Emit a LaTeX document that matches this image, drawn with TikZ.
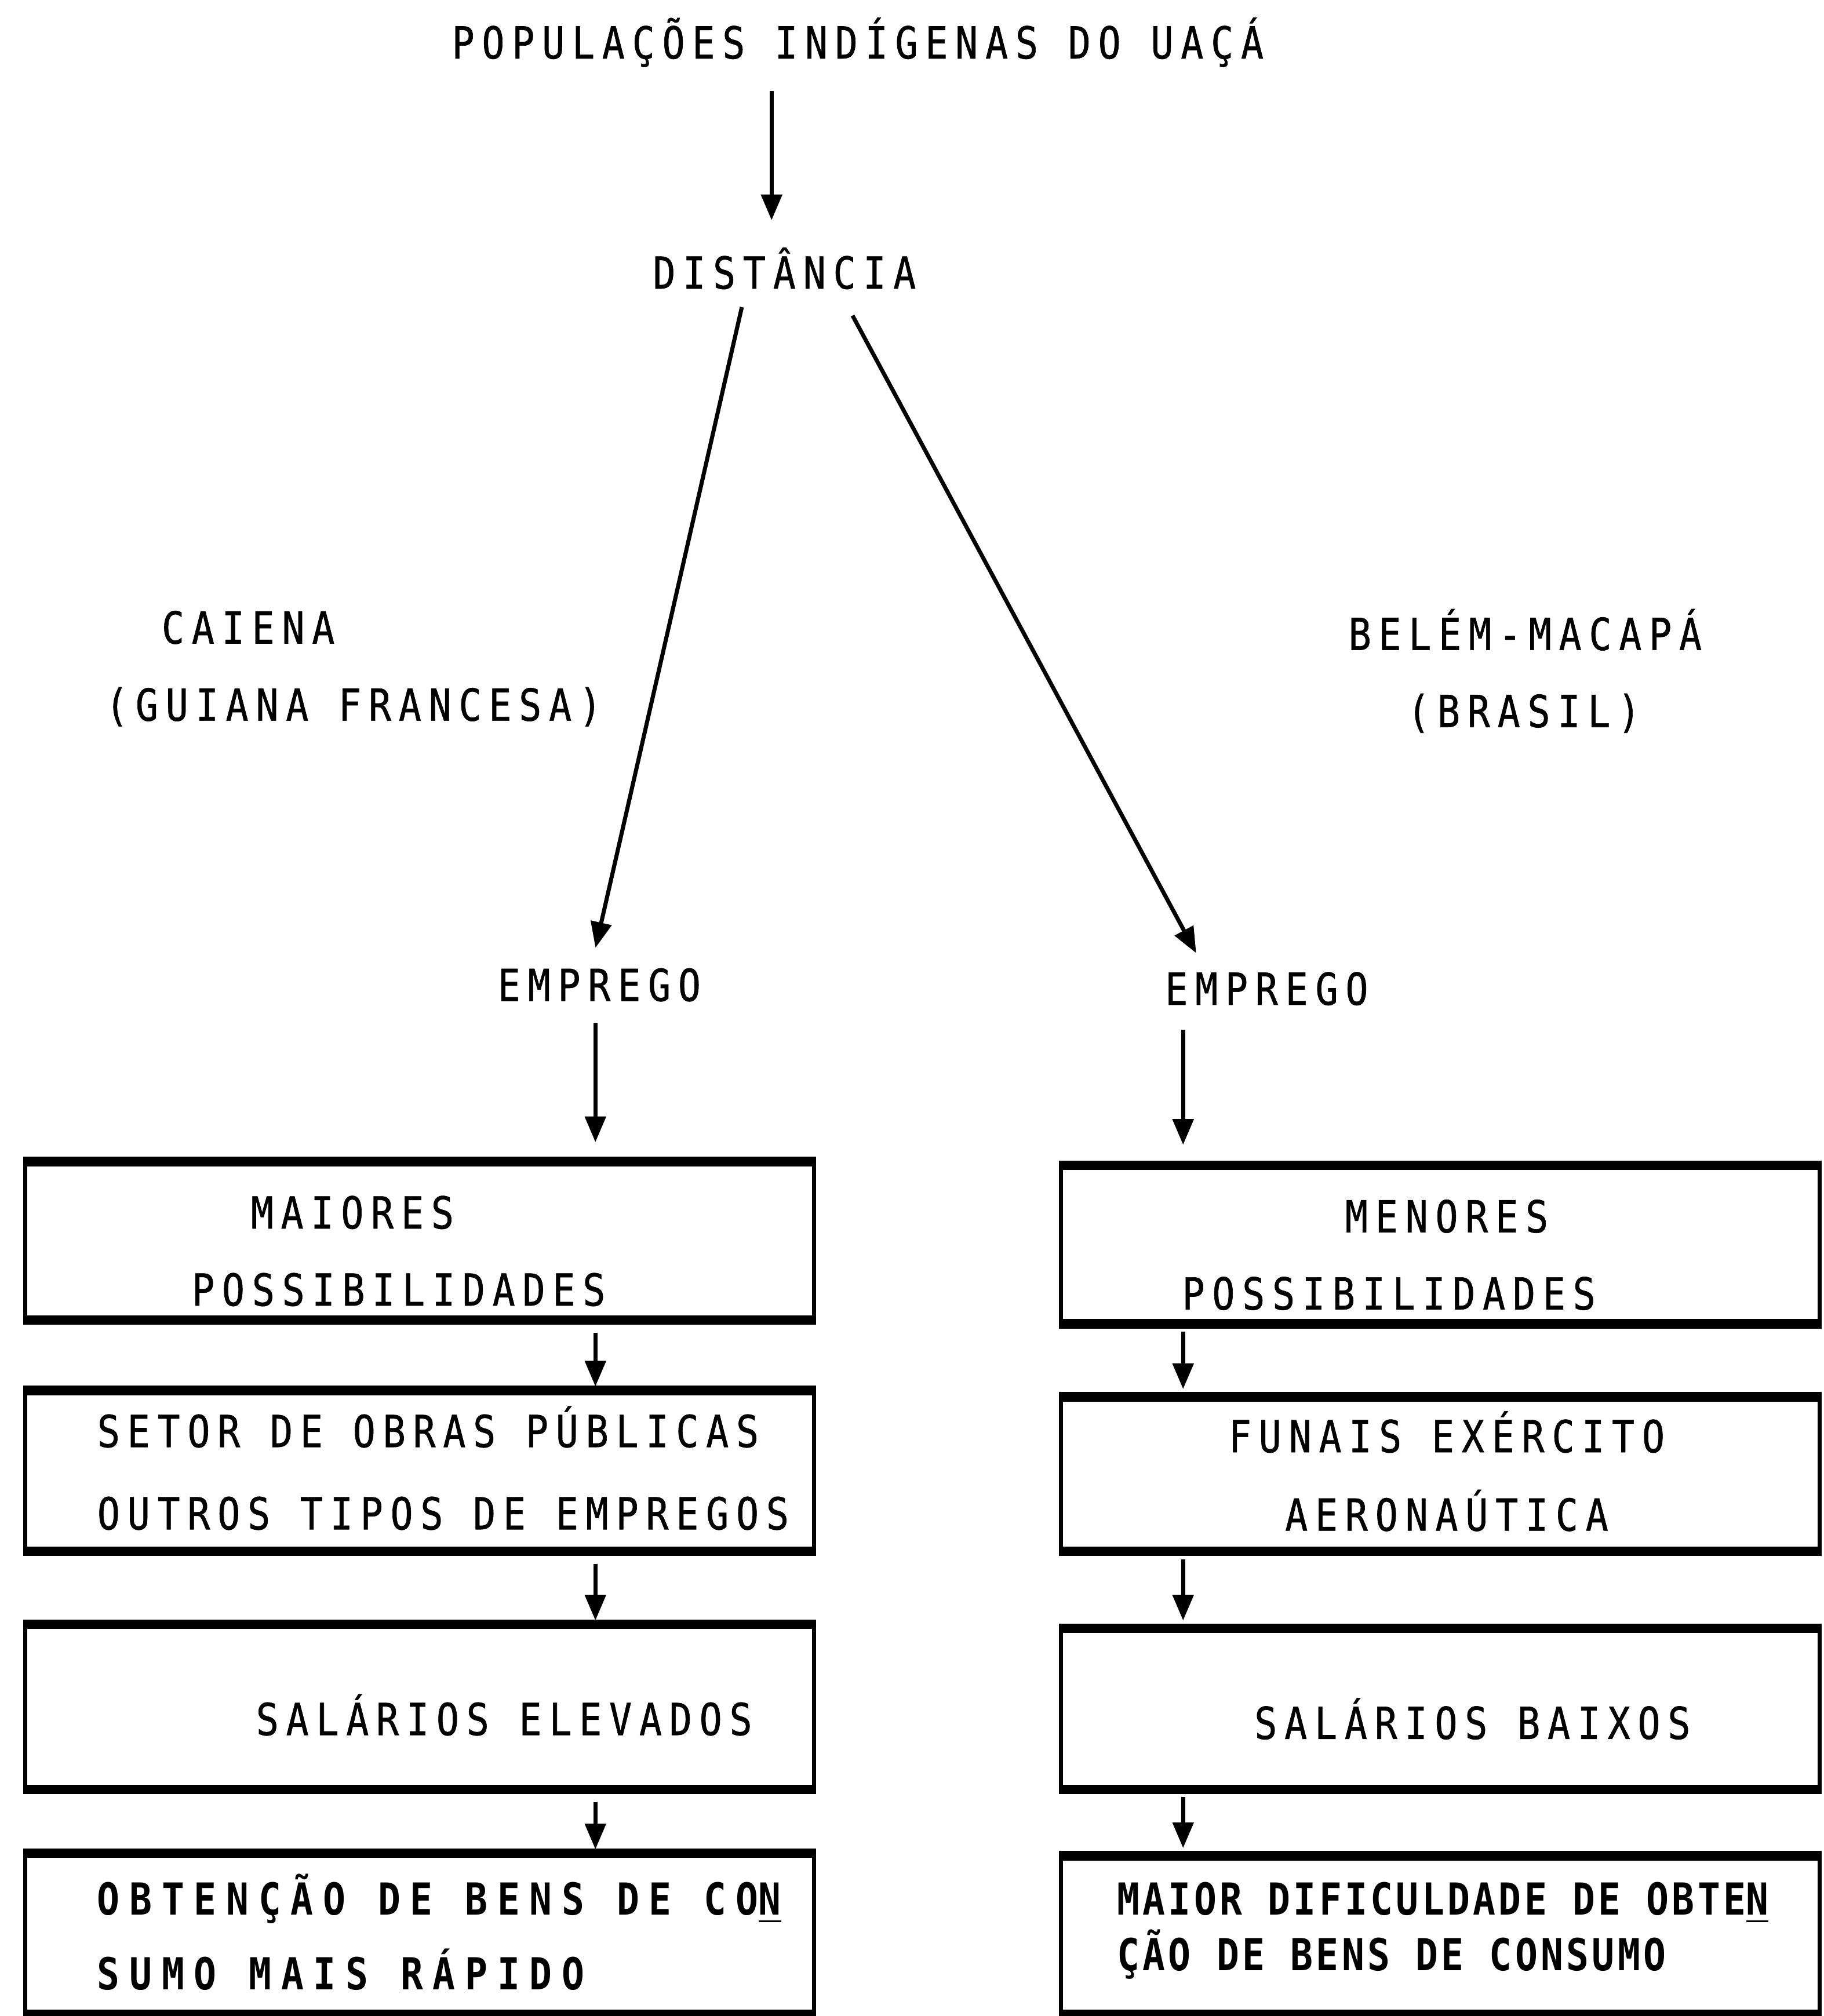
\documentclass[tikz,border=0pt]{standalone}
\usepackage{fontspec}
\usetikzlibrary{arrows.meta}
\newfontfamily\typer{DejaVu Sans Mono}[FakeStretch=0.85,LetterSpace=17,FakeBold=0.8]
\newfontfamily\typerwide{DejaVu Sans Mono}[FakeStretch=0.85,LetterSpace=22]
\newfontfamily\typertight{DejaVu Sans Mono}[FakeStretch=0.85,LetterSpace=7]
\begin{document}
\begin{tikzpicture}[x=0.01cm,y=-0.01cm,
    >={Triangle[length=2mm,width=1.6mm]},
    caption/.style={inner sep=0pt,text height=7.1pt,text depth=0pt,font=\fontsize{9.75pt}{11pt}\selectfont\typer},
    strong/.style={caption,font=\fontsize{9.75pt}{11pt}\selectfont\typerwide\bfseries},
    tight/.style={caption,font=\fontsize{9.75pt}{11pt}\selectfont\typertight\bfseries},
    block/.style={draw,line width=0.9pt,inner sep=0pt},
    rim/.style={line width=2.1pt},
    arrow/.style={->,line width=0.9pt}]
   \useasboundingbox (0,0) rectangle (1418,1568);
   \node[caption] (title)  at (667,33)  {POPULAÇÕES INDÍGENAS DO UAÇÁ};
   \node[caption] (dist)   at (610,212) {DISTÂNCIA};
   \node[caption] (caiena) at (193,488) {CAIENA};
   \node[caption] (guiana) at (275,548) {(GUIANA FRANCESA)};
   \node[caption] (belem)  at (1186,493) {BELÉM-MACAPÁ};
   \node[caption] (brasil) at (1185,553) {(BRASIL)};
   \node[caption] (empL)   at (466,766) {EMPREGO};
   \node[caption] (empR)   at (985,769) {EMPREGO};
   \node[block,minimum width=6.13cm,minimum height=1.2cm]  (L1) at (326.5,965) {};
   \node[block,minimum width=6.13cm,minimum height=1.22cm] (L2) at (326.5,1144) {};
   \node[block,minimum width=6.13cm,minimum height=1.25cm] (L3) at (326.5,1327.5) {};
   \node[block,minimum width=6.13cm,minimum height=1.22cm] (L4) at (326.5,1504) {};
   \node[block,minimum width=5.9cm,minimum height=1.2cm]   (R1) at (1120,968) {};
   \node[block,minimum width=5.9cm,minimum height=1.17cm]  (R2) at (1120,1146.5) {};
   \node[block,minimum width=5.9cm,minimum height=1.22cm]  (R3) at (1120,1329) {};
   \node[block,minimum width=5.9cm,minimum height=1.2cm]   (R4) at (1120,1505) {};
   \foreach \b in {L1,L2,L3,L4,R1,R2,R3,R4}
     \draw[rim] (\b.north west) -- (\b.north east) (\b.south west) -- (\b.south east);
   \node[caption] (maiores) at (274,943) {MAIORES};
   \node[caption] (possL) at (310,1003) {POSSIBILIDADES};
   \node[caption,anchor=west] (setor) at (75,1113) {SETOR DE OBRAS PÚBLICAS};
   \node[caption,anchor=west] (outros) at (75,1177) {OUTROS TIPOS DE EMPREGOS};
   \node[caption] (elevados) at (392,1337) {SALÁRIOS ELEVADOS};
   \node[strong,anchor=west] (obter) at (75,1477) {OBTENÇÃO DE BENS DE CO\underline{N}};
   \node[strong,anchor=west] (rapido) at (75,1535) {SUMO MAIS RÁPIDO};
   \node[caption] (menores) at (1125,946) {MENORES};
   \node[caption] (possR) at (1080,1006) {POSSIBILIDADES};
   \node[caption] (funais) at (1125,1117) {FUNAIS EXÉRCITO};
   \node[caption] (aero) at (1125,1178) {AERONAÚTICA};
   \node[caption] (baixos) at (1145,1340) {SALÁRIOS BAIXOS};
   \node[tight,anchor=west] (dific) at (868,1477) {MAIOR DIFICULDADE DE OBTE\underline{N}};
   \node[tight,anchor=west] (consumo) at (868,1520) {ÇÃO DE BENS DE CONSUMO};
   \coordinate (tx) at (600,0);
   \coordinate (lx) at (463,0);
   \coordinate (rx) at (920,0);
   \draw[arrow,shorten <=2.45mm,shorten >=2.75mm] (title.south -| tx) -- (dist.north -| tx);
   \draw[arrow,shorten <=1.4mm,shorten >=1.6mm] ([xshift=-3.0mm]dist.south) -- ([xshift=-0.65mm]empL.north);
   \draw[arrow,shorten <=2.3mm,shorten >=1.65mm] ([xshift=4.2mm]dist.south) -- ([xshift=-4.7mm]empR.north);
   \draw[arrow,shorten <=1.65mm,shorten >=1.5mm] (empL.south -| lx) -- (L1.north -| lx);
   \draw[arrow,shorten <=1.85mm,shorten >=1.6mm] (empR.south -| rx) -- (R1.north -| rx);
   \foreach \a/\b in {L1/L2,L2/L3,L3/L4}
     \draw[arrow,shorten <=1mm,shorten >=0.3mm] (\a.south -| lx) -- (\b.north -| lx);
   \foreach \a/\b in {R1/R2,R2/R3,R3/R4}
     \draw[arrow,shorten <=0.6mm,shorten >=0.6mm] (\a.south -| rx) -- (\b.north -| rx);
\end{tikzpicture}
\end{document}
